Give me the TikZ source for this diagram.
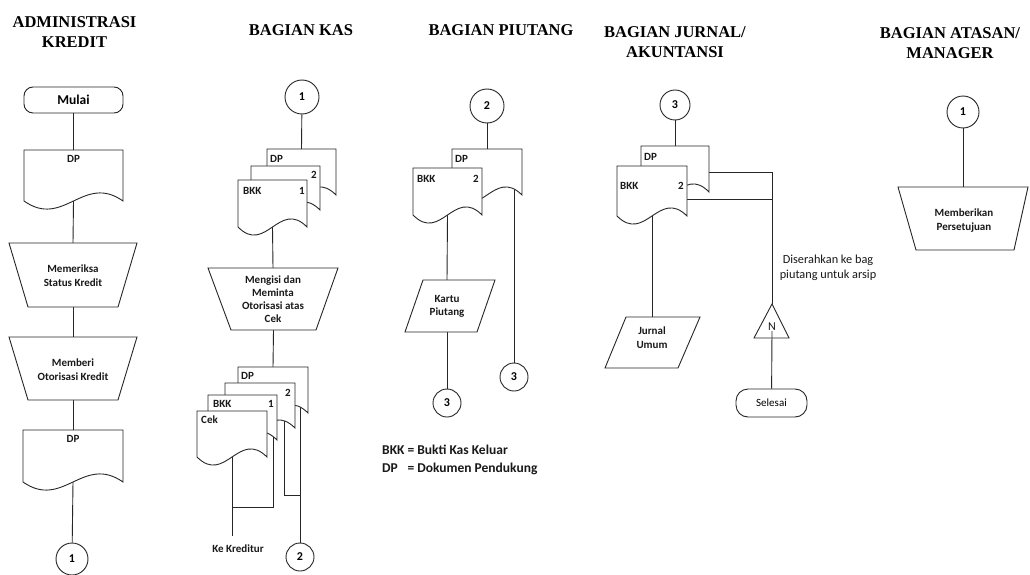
\documentclass[tikz,border=0pt]{standalone}
\usepackage{fontspec}
\setmainfont{Carlito}
\newfontfamily\headfont{Liberation Serif}
\pgfdeclarelayer{bg}
\pgfsetlayers{bg,main}

% document symbol: name, left x, top y, right x, baseline of the wavy bottom
\newcommand\sheet[5]{%
  \draw[sheetstyle] (#2,#3) -- (#4,#3) -- (#4,#5)
    .. controls ({#2+0.6*(#4-#2)},{#5-28}) and ({#2+0.4*(#4-#2)},{#5+28}) .. (#2,#5) -- cycle;
  \coordinate (#1-t) at ({(#2+#4)/2},#3);
  \coordinate (#1-b) at ({(#2+#4)/2},#5);
}
% four-sided symbol (trapezium / parallelogram): name, top-left x, top-right x, top y, bottom-left x, bottom-right x, bottom y
\newcommand\quadshape[7]{%
  \draw[sheetstyle] (#2,#4) -- (#3,#4) -- (#6,#7) -- (#5,#7) -- cycle;
  \coordinate (#1-t) at ({(#2+#3)/2},#4);
  \coordinate (#1-b) at ({(#5+#6)/2},#7);
}

\tikzset{
  ln/.style={draw=black!85, line width=0.9pt},
  sheetstyle/.style={draw=black!85, line width=0.9pt, fill=white},
  lbl/.style={font=\bfseries\fontsize{11}{14}\selectfont, inner sep=0pt, text=black!90},
  multi/.style={lbl, align=center},
  plain/.style={font=\fontsize{11}{14}\selectfont, inner sep=0pt, text=black!90},
  ttl/.style={font=\headfont\bfseries\fontsize{16.5}{20}\selectfont, align=center, inner sep=0pt},
  conn/.style={circle, draw=black!85, line width=0.9pt, fill=white, inner sep=0pt,
               font=\bfseries\fontsize{12}{14}\selectfont},
  term/.style={draw=black!85, line width=0.9pt, fill=white, inner sep=0pt},
}

\begin{document}
\begin{tikzpicture}[x=1pt,y=-1pt]
\useasboundingbox (0,0) rectangle (1030,575);

% ---- lane headings ----
\node[ttl] (h1) at (74.5,32) {ADMINISTRASI\\KREDIT};
\node[ttl] (h2) at (301,30) {BAGIAN KAS};
\node[ttl] (h3) at (501,30) {BAGIAN PIUTANG};
\node[ttl] (h4) at (675,42) {BAGIAN JURNAL/\\AKUNTANSI};
\node[ttl] (h5) at (950,43) {BAGIAN ATASAN/\\MANAGER};

% ---- Administrasi Kredit ----
\node[term, rounded corners=9pt, minimum width=99, minimum height=26,
      font=\bfseries\fontsize{13.5}{16}\selectfont] (mulai) at (73.5,100) {Mulai};
\sheet{a1}{24}{150}{123}{201}
\node[lbl] (a1l) at (73.5,159) {DP};
\quadshape{a2}{9}{137}{243}{28}{118}{307}
\node[multi] (a2l) at (73,276) {Memeriksa\\Status Kredit};
\quadshape{a3}{9}{137}{337}{28}{118}{400}
\node[multi] (a3l) at (73,369.5) {Memberi\\Otorisasi Kredit};
\sheet{a4}{23}{430}{123}{482}
\node[lbl] (a4l) at (73,439) {DP};
\node[conn, minimum size=32] (a5) at (72,559) {1};

% ---- Bagian Kas ----
\node[conn, minimum size=34] (k1) at (302,97) {1};
\sheet{ka}{267}{149}{336}{195}
\sheet{kb}{251}{166}{320}{210}
\sheet{kc}{238}{180}{307}{227}
\node[lbl, anchor=west] (kal) at (270,159) {DP};
\node[lbl] (kbl) at (314,175) {2};
\node[lbl, anchor=west] (kcl) at (243,191) {BKK};
\node[lbl] (kcn) at (302,191) {1};
\quadshape{kt}{208}{338}{268}{231}{316}{330}
\node[multi, font=\bfseries\fontsize{11}{13}\selectfont] (ktl) at (273,299.5)
  {Mengisi dan\\Meminta\\Otorisasi atas\\Cek};
\sheet{kd}{238}{367}{308}{413}
\sheet{ke}{225}{383}{295}{428}
\sheet{kf}{208}{395}{277}{440}
\sheet{kg}{197}{411}{267}{457}
\node[lbl, anchor=west] (kdl) at (241,376) {DP};
\node[lbl] (kel) at (288,393) {2};
\node[lbl, anchor=west] (kfl) at (213,404) {BKK};
\node[lbl] (kfn) at (271,404) {1};
\node[lbl, anchor=west] (kgl) at (201,420) {Cek};
\node[lbl] (kkred) at (238,549) {Ke Kreditur};
\node[conn, minimum size=28] (k2) at (300,557) {2};
\coordinate (kend) at (232,536);
\coordinate (kj1) at (232,507);
\coordinate (kf-o) at (273,430);
\coordinate (ke-o) at (284,415);
\coordinate (kj2) at (300,495);
\coordinate (kd-o) at (300,400);

% ---- Bagian Piutang ----
\node[conn, minimum size=34] (p2) at (487,106) {2};
\sheet{pa}{452}{149}{522}{195}
\sheet{pb}{413}{168}{482}{215}
\node[lbl, anchor=west] (pal) at (455,159) {DP};
\node[lbl, anchor=west] (pbl) at (417,179) {BKK};
\node[lbl] (pbn) at (476,179) {2};
\quadshape{pk}{423}{495}{280}{405}{477}{332}
\node[multi, font=\bfseries\fontsize{11}{13}\selectfont] (pkl) at (447,306.5) {Kartu\\Piutang};
\coordinate (pk-in) at (447,280);
\coordinate (pk-out) at (447,332);
\node[conn, minimum size=28] (p3a) at (447,403) {3};
\node[conn, minimum size=28] (p3b) at (514,377) {3};
\coordinate (pa-o) at (514,185);
\node[anchor=west, inner sep=0pt, font=\bfseries\fontsize{13.5}{18}\selectfont, text=black!90] (legend) at (382,460)
  {\begin{tabular}{@{}l@{\hspace{3pt}}l@{}}BKK & = Bukti Kas Keluar\\ DP & = Dokumen Pendukung\end{tabular}};

% ---- Bagian Jurnal / Akuntansi ----
\node[conn, minimum size=30] (j3) at (675,105) {3};
\sheet{ja}{641}{146}{709}{192}
\sheet{jb}{617}{166}{687}{216}
\node[lbl, anchor=west] (jal) at (644,157) {DP};
\node[lbl, anchor=west] (jbl) at (620,186) {BKK};
\node[lbl] (jbn) at (681,186) {2};
\coordinate (ja-o) at (700,172);
\coordinate (jx1) at (772,172);
\coordinate (jb-o) at (680,199);
\coordinate (jx2) at (772,199);
\node[plain, align=center, font=\fontsize{12.3}{15}\selectfont] (jnote) at (828,267.5)
  {Diserahkan ke bag\\piutang untuk arsip};
\draw[ln] (772,304) -- (789,338) -- (754,338) -- cycle;
\coordinate (jtri) at (772,304);
\coordinate (jtri-in) at (772,331);
\node[plain, font=\fontsize{12}{14}\selectfont] (jn) at (772,326.5) {N};
\node[term, rounded corners=12pt, minimum width=71, minimum height=28,
      font=\fontsize{11}{13}\selectfont] (sel) at (771.5,403) {Selesai};
\quadshape{jj}{626}{700}{317}{605}{678}{368}
\coordinate (jj-in) at (652,317);
\node[multi] (jjl) at (652,337.5) {Jurnal\\Umum};

% ---- Bagian Atasan / Manager ----
\node[conn, minimum size=32] (m1) at (963,112) {1};
\quadshape{mt}{898}{1028}{187}{916}{1014}{250}
\node[multi] (mtl) at (964,220.5) {Memberikan\\Persetujuan};

% ---- page ground and flow lines (behind the symbols) ----
\begin{pgfonlayer}{bg}
  \fill[white] (0,0) rectangle (1030,575);

  \draw[ln] (mulai) -- (a1-t);
  \draw[ln] (a1-b) -- (a2-t);
  \draw[ln] (a2-b) -- (a3-t);
  \draw[ln] (a3-b) -- (a4-t);
  \draw[ln] (a4-b) -- (a5);

  \draw[ln] (k1) -- (ka-t);
  \draw[ln] (kc-b) -- (kt-t);
  \draw[ln] (kt-b) -- (kd-t);
  \draw[ln] (kg-b) -- (kend);
  \draw[ln] (kj1) -| (kf-o);
  \draw[ln] (ke-o) |- (kj2);
  \draw[ln] (kd-o) -- (k2);

  \draw[ln] (p2) -- (pa-t);
  \draw[ln] (pb-b) -- (pk-in);
  \draw[ln] (pk-out) -- (p3a);
  \draw[ln] (pa-o) -- (p3b);

  \draw[ln] (j3) -- (ja-t);
  \draw[ln] (ja-o) -- (jx1) -- (jtri);
  \draw[ln] (jb-o) -- (jx2);
  \draw[ln] (jb-b) -- (jj-in);
  \draw[ln] (sel) -- (jtri-in);

  \draw[ln] (m1) -- (mt-t);
\end{pgfonlayer}
\end{tikzpicture}
\end{document}
